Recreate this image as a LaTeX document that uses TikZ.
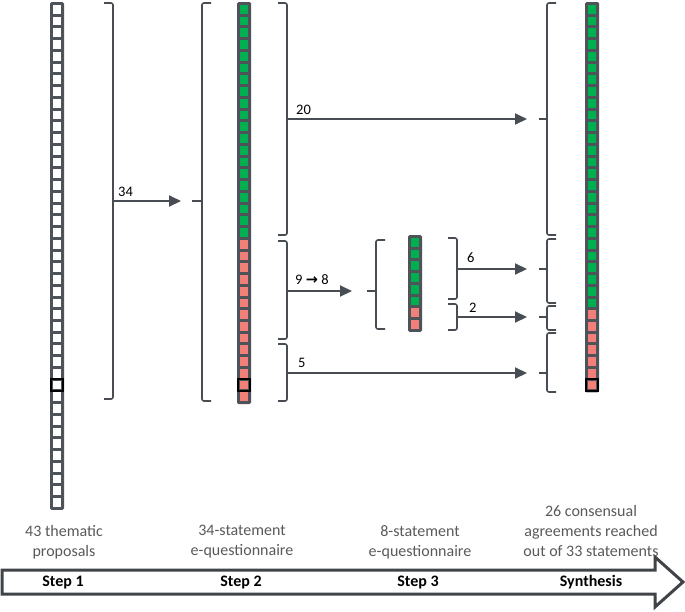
\documentclass[tikz,border=0pt]{standalone}
\usepackage{fontspec}
\setmainfont{Carlito}
\newfontfamily\dejavu{DejaVu Sans}
\usetikzlibrary{arrows.meta}
\definecolor{ln}{RGB}{72,77,83}
\definecolor{cellbd}{RGB}{78,83,89}
\definecolor{cg}{RGB}{0,176,80}
\definecolor{cr}{RGB}{240,128,120}
\definecolor{txt}{RGB}{89,89,89}
\definecolor{bigln}{RGB}{64,68,72}
\tikzset{
  brace/.style={draw=ln, line width=1.6pt, rounded corners=2pt},
  arr/.style={draw=ln, line width=2pt, -{Triangle[length=12pt,width=11pt]}},
  lab/.style={inner sep=0pt, font=\fontsize{14.5}{17}\selectfont, text=black},
  desc/.style={inner sep=0pt, align=center, font=\fontsize{16}{20}\selectfont, text=txt},
  steplab/.style={inner sep=0pt, font=\bfseries\fontsize{16}{20}\selectfont, text=black},
  bigarrow/.style={draw=bigln, line width=3pt, fill=white, line join=miter}
}
\newcommand\cellstack[6]{%
  \fill[cellbd, rounded corners=1.5pt] (#1,#2) rectangle ++(14,#3*11.74+3);
  \foreach \i in {1,...,#3}{%
    \pgfmathsetmacro\yy{#2+3+(\i-1)*11.74}%
    \ifnum\i>#4\relax\def\cc{#5}\else\def\cc{cg}\fi
    \fill[\cc] (#1+2.9,\yy) rectangle ++(8.2,8.74);
  }%
  \ifnum#6>0\relax
    \draw[black,line width=2pt] (#1+1,#2+1.5+#6*11.74-11.74) rectangle ++(12,11.74);
  \fi
}
\newcommand\brk[4]{%
  \draw[brace] (#1+#4*9,#2) -- (#1,#2) -- (#1,#3) -- (#1+#4*9,#3);
}
\begin{document}
\begin{tikzpicture}[x=1pt,y=-1pt]
\useasboundingbox (0,0) rectangle (685,611);

% columns of cells
\cellstack{50}{2}{43}{0}{white}{33}
\cellstack{237}{2}{34}{20}{cr}{33}
\cellstack{408}{235}{8}{6}{cr}{0}
\cellstack{585}{2}{33}{26}{cr}{33}

% braces
\brk{113}{3}{399}{-1}
\brk{202}{3}{401}{1}
\brk{287}{3}{235}{-1}
\brk{287}{241}{339}{-1}
\brk{287}{344}{401}{-1}
\brk{376}{240}{329}{1}
\brk{457}{238}{299}{-1}
\brk{457}{304}{330}{-1}
\brk{547}{3}{235}{1}
\brk{547}{239}{303}{1}
\brk{547}{306}{330}{1}
\brk{547}{333}{392}{1}

% brace ticks
\coordinate (t2) at (202,201); \coordinate (t2e) at (192,201);
\coordinate (t3) at (376,291); \coordinate (t3e) at (367,291);
\coordinate (s1) at (547,119); \coordinate (s1e) at (539,119);
\coordinate (s2) at (547,269); \coordinate (s2e) at (539,269);
\coordinate (s3) at (547,317); \coordinate (s3e) at (539,317);
\coordinate (s4) at (547,373); \coordinate (s4e) at (539,373);
\foreach \a/\b in {t2/t2e,t3/t3e,s1/s1e,s2/s2e,s3/s3e,s4/s4e}{\draw[brace] (\a) -- (\b);}

% arrows
\coordinate (a1s) at (113,201); \coordinate (a1e) at (181,201);
\coordinate (a2s) at (287,119); \coordinate (a2e) at (527,119);
\coordinate (a3s) at (287,291); \coordinate (a3e) at (352,291);
\coordinate (a4s) at (287,373); \coordinate (a4e) at (527,373);
\coordinate (a5s) at (457,269); \coordinate (a5e) at (527,269);
\coordinate (a6s) at (457,317); \coordinate (a6e) at (527,317);
\draw[arr] (a1s) -- (a1e);
\draw[arr] (a2s) -- (a2e);
\draw[arr] (a3s) -- (a3e);
\draw[arr] (a4s) -- (a4e);
\draw[arr] (a5s) -- (a5e);
\draw[arr] (a6s) -- (a6e);

% arrow labels
\node[lab, anchor=base west] (n34) at (118,196) {34};
\node[lab, anchor=base west] (n20) at (296,114) {20};
\node[lab, anchor=base west] (n98) at (295,284) {9 {\dejavu\bfseries\fontsize{14.5}{17}\selectfont →} 8};
\node[lab, anchor=base west] (n5) at (298,367) {5};
\node[lab, anchor=base west] (n6) at (467,262) {6};
\node[lab, anchor=base west] (n2) at (469,312) {2};

% bottom timeline arrow
\draw[bigarrow] (2,570) -- (655,570) -- (655,557) -- (683,582) -- (655,607) -- (655,594) -- (2,594) -- cycle;
\node[steplab] (st1) at (63,582) {Step 1};
\node[steplab] (st2) at (241,582) {Step 2};
\node[steplab] (st3) at (418,582) {Step 3};
\node[steplab] (st4) at (591,582) {Synthesis};

% descriptions
\node[desc] (d1) at (64,542) {43 thematic\\proposals};
\node[desc] (d2) at (242,542) {34-statement\\e-questionnaire};
\node[desc] (d3) at (420,542) {8-statement\\e-questionnaire};
\node[desc] (d4) at (591,531) {26 consensual\\agreements reached\\out of 33 statements};
\end{tikzpicture}
\end{document}
